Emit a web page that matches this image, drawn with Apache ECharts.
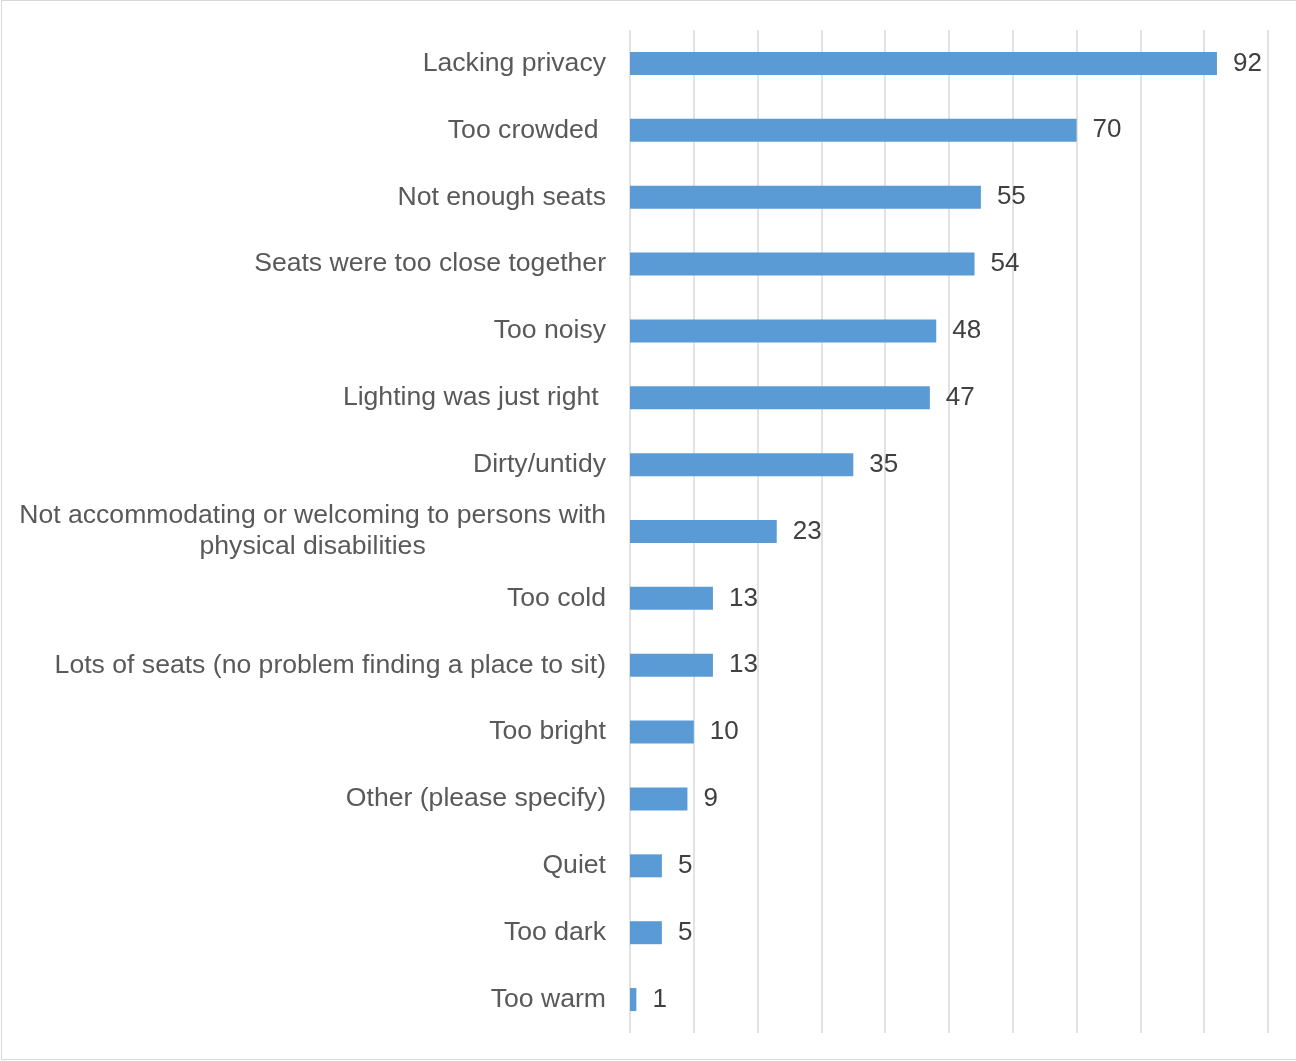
<!DOCTYPE html>
<html>
<head>
<meta charset="utf-8">
<script src="https://cdn.jsdelivr.net/npm/echarts@6/dist/echarts.min.js"></script>
<style>
  html, body { margin: 0; padding: 0; background: #fff; }
  #wrap { position: relative; width: 1296px; height: 1061px; }
  #chart { position: absolute; left: 0; top: 0; width: 1296px; height: 1061px; }
  #frame { position: absolute; left: 1px; top: 0; width: 1296px; height: 1060px;
           box-sizing: border-box; border: 1px solid #d9d9d9; pointer-events: none; }
</style>
</head>
<body>
<div id="wrap">
  <div id="chart"></div>
  <div id="frame"></div>
</div>
<script>
// Survey responses: what respondents said about the space (count of mentions)
const categories = [
  'Lacking privacy',
  'Too crowded ',
  'Not enough seats',
  'Seats were too close together',
  'Too noisy',
  'Lighting was just right ',
  'Dirty/untidy',
  'Not accommodating or welcoming to persons with\nphysical disabilities',
  'Too cold',
  'Lots of seats (no problem finding a place to sit)',
  'Too bright',
  'Other (please specify)',
  'Quiet',
  'Too dark',
  'Too warm'
];
const counts = [92, 70, 55, 54, 48, 47, 35, 23, 13, 13, 10, 9, 5, 5, 1];
const axisMax = 100;
const axisStep = 10;

const chart = echarts.init(document.getElementById('chart'), null, { renderer: 'canvas' });
const font = 'Liberation Sans, Arial, sans-serif';

chart.setOption({
  animation: false,
  backgroundColor: '#ffffff',
  grid: { left: 630, right: 28, top: 30, bottom: 28, containLabel: false },
  xAxis: {
    type: 'value',
    min: 0,
    max: axisMax,
    interval: axisStep,
    axisLine: { show: false },
    axisTick: { show: false },
    axisLabel: { show: false },
    splitLine: { show: true, lineStyle: { color: '#d9d9d9', width: 1.5 } }
  },
  yAxis: {
    type: 'category',
    inverse: true,
    data: categories,
    axisLine: { show: false },
    axisTick: { show: false },
    axisLabel: {
      margin: 24,
      fontFamily: font,
      fontSize: 26.6,
      color: '#595959',
      lineHeight: 31,
      formatter: function (v) { return '{c|' + v + '}'; },
      rich: {
        c: { fontFamily: font, fontSize: 26.6, color: '#595959', lineHeight: 31, align: 'center' }
      }
    }
  },
  series: [{
    type: 'bar',
    data: counts,
    barWidth: 23,
    itemStyle: { color: '#5b9bd5' },
    label: {
      show: true,
      position: 'right',
      distance: 16,
      fontFamily: font,
      fontSize: 26,
      color: '#404040'
    }
  }]
});
</script>
</body>
</html>
